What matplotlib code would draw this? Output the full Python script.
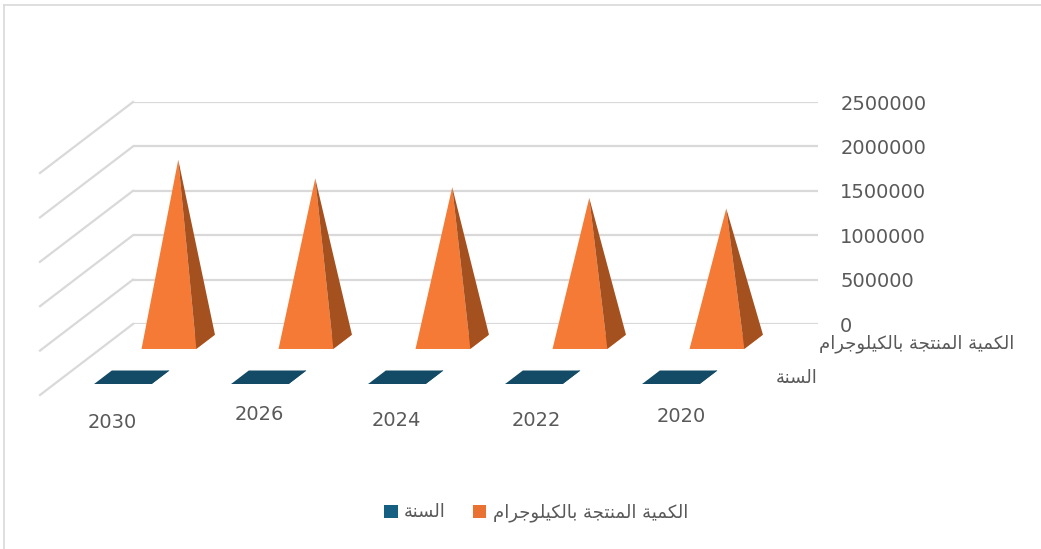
import matplotlib
matplotlib.use("Agg")
import matplotlib.pyplot as plt
from matplotlib.patches import Polygon, Patch
from matplotlib.lines import Line2D

years = [2030, 2026, 2024, 2022, 2020]
year_labels = ["2030", "2026", "2024", "2022", "2020"]
quantity_kg = [2050000, 1840000, 1740000, 1620000, 1500000]
series_names = ["الكمية المنتجة بالكيلوجرام", "السنة"]
y_ticks = [0, 500000, 1000000, 1500000, 2000000, 2500000]

# Arabic letters -> (isolated, final, initial, medial) presentation forms
FORMS = {
    "ا": ("\uFE8D", "\uFE8E", None, None),
    "ب": ("\uFE8F", "\uFE90", "\uFE91", "\uFE92"),
    "ة": ("\uFE93", "\uFE94", None, None),
    "ت": ("\uFE95", "\uFE96", "\uFE97", "\uFE98"),
    "ج": ("\uFE9D", "\uFE9E", "\uFE9F", "\uFEA0"),
    "ر": ("\uFEAD", "\uFEAE", None, None),
    "س": ("\uFEB1", "\uFEB2", "\uFEB3", "\uFEB4"),
    "ك": ("\uFED9", "\uFEDA", "\uFEDB", "\uFEDC"),
    "ل": ("\uFEDD", "\uFEDE", "\uFEDF", "\uFEE0"),
    "م": ("\uFEE1", "\uFEE2", "\uFEE3", "\uFEE4"),
    "ن": ("\uFEE5", "\uFEE6", "\uFEE7", "\uFEE8"),
    "و": ("\uFEED", "\uFEEE", None, None),
    "ي": ("\uFEF1", "\uFEF2", "\uFEF3", "\uFEF4"),
}


def shape(text):
    """join arabic letters and lay them out right to left"""
    out = []
    for i, ch in enumerate(text):
        if ch not in FORMS:
            out.append(ch)
            continue
        iso, fin, ini, med = FORMS[ch]
        prev = text[i - 1] if i > 0 else ""
        nxt = text[i + 1] if i + 1 < len(text) else ""
        join_prev = prev in FORMS and FORMS[prev][2] is not None
        join_next = ini is not None and nxt in FORMS
        if join_prev and join_next:
            out.append(med)
        elif join_prev:
            out.append(fin)
        elif join_next:
            out.append(ini)
        else:
            out.append(iso)
    return "".join(reversed(out))


W, H = 1041, 549
TEXT = "#595959"
GRID = "#D9D9D9"
ORANGE, ORANGE_SIDE = "#F47A35", "#A5501F"
BLUE, BLUE_LEG = "#134A66", "#156082"
ORANGE_LEG = "#E97132"

fig = plt.figure(figsize=(W / 100, H / 100), dpi=100)
ax_px = (133, 225, 685, 222)  # left, bottom, width, height
ax = fig.add_axes([ax_px[0] / W, ax_px[1] / H, ax_px[2] / W, ax_px[3] / H])
ymax = 2500000
ax.set_xlim(0, len(years))
ax.set_ylim(0, ymax)
for s in ax.spines.values():
    s.set_visible(False)
ax.set_xticks([])
ax.yaxis.tick_right()
ax.set_yticks(y_ticks)
ax.set_yticklabels([str(t) for t in y_ticks])
ax.tick_params(axis="y", length=0, pad=16, labelsize=14, labelcolor=TEXT)

# oblique depth: full floor depth moves 93 px left and 71 px down
cat_px = ax_px[2] / len(years)
DX = -93 / cat_px
DY = -71 / ax_px[3] * ymax


def proj(x, y, z):
    return (x + z * DX, y + z * DY)


# back wall gridlines and side wall diagonals
for t in y_ticks:
    ax.plot([0, len(years)], [t, t], color=GRID, lw=1.6, zorder=1)
    ax.plot([0, DX], [t, t + DY], color=GRID, lw=1.6, zorder=1, clip_on=False)


def pyramid(xc, value, z0, z1, w, front, side, base):
    fl = proj(xc - w / 2, 0, z1)
    fr = proj(xc + w / 2, 0, z1)
    br = proj(xc + w / 2, 0, z0)
    bl = proj(xc - w / 2, 0, z0)
    apex = proj(xc, value, (z0 + z1) / 2)
    for pts, c in [([fl, fr, br, bl], base), ([fl, fr, apex], front), ([fr, br, apex], side)]:
        ax.add_patch(Polygon(pts, closed=True, facecolor=c, edgecolor="none",
                             zorder=3, clip_on=False))


# back row: quantity, front row: year
for i, v in enumerate(quantity_kg):
    pyramid(i + 0.5, v, 0.15, 0.35, 0.40, ORANGE, ORANGE_SIDE, ORANGE)
for i, v in enumerate(years):
    pyramid(i + 0.5, v, 0.655, 0.845, 0.42, BLUE, BLUE, BLUE)

# category labels along the front edge
nudge_x = [4, 14, 14, 17, 25]
nudge_y = [-27, -20, -26, -26, -21]
for i, lab in enumerate(year_labels):
    ax.annotate(lab, proj(i + 0.5, 0, 1.0), xytext=(nudge_x[i], nudge_y[i]),
                textcoords="offset pixels", ha="center", va="center",
                fontsize=14, color=TEXT, annotation_clip=False)

# series labels on the depth axis
ax.annotate(shape(series_names[0]), proj(len(years), 0, 0.25), xytext=(24, -2),
            textcoords="offset pixels", ha="left", va="center",
            fontsize=13, color=TEXT, annotation_clip=False)
ax.annotate(shape(series_names[1]), proj(len(years), 0, 0.75), xytext=(27, -1),
            textcoords="offset pixels", ha="left", va="center",
            fontsize=13, color=TEXT, annotation_clip=False)

handles = [Patch(facecolor=BLUE_LEG), Patch(facecolor=ORANGE_LEG)]
fig.legend(handles, [shape(series_names[1]), shape(series_names[0])],
           loc="center", bbox_to_anchor=(0.515, 0.066), ncol=2, frameon=False,
           fontsize=13, labelcolor=TEXT, handlelength=0.75, handleheight=0.75,
           handletextpad=0.35, columnspacing=1.5)

# chart area border
fig.add_artist(Line2D([4 / W, 4 / W], [0, 544 / H], color=GRID, lw=1.2))
fig.add_artist(Line2D([4 / W, 1], [544 / H, 544 / H], color=GRID, lw=1.2))

fig.savefig("out.png", dpi=100, facecolor="white")
